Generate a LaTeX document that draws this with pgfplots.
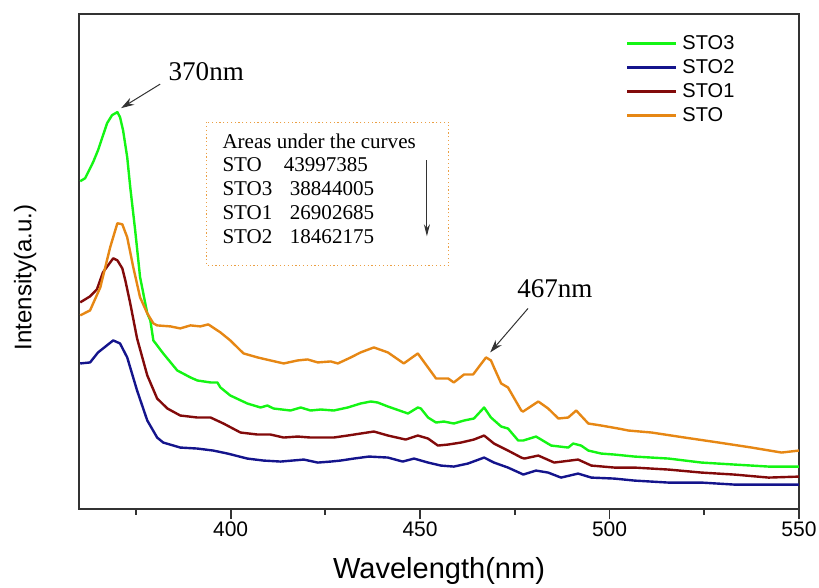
\documentclass[border=0pt]{standalone}
\usepackage{fontspec}
\setmainfont{Liberation Sans}
\newfontfamily\tnr{Liberation Serif}
\usepackage{pgfplots}
\pgfplotsset{compat=1.18}
\usetikzlibrary{arrows.meta}

\definecolor{cgreen}{RGB}{20,245,20}
\definecolor{cblue}{RGB}{20,20,140}
\definecolor{cbrown}{RGB}{130,10,10}
\definecolor{corange}{RGB}{230,135,20}

\begin{document}
\begin{tikzpicture}
\begin{axis}[
  name=ax,
  scale only axis,
  width=719pt, height=494pt,
  xmin=360, xmax=550, ymin=0, ymax=494,
  xtick={400,450,500,550},
  minor xtick={375,425,475,525},
  ytick=\empty,
  xtick pos=bottom,
  tick align=outside,
  major tick length=10pt,
  minor tick length=6pt,
  axis line style={line width=1.8pt, black!80},
  every tick/.style={line width=1.8pt, black!80},
  /pgf/number format/assume math mode=true,
  xticklabel style={font=\fontsize{21}{21}\selectfont},
  xlabel={Wavelength(nm)},
  ylabel={Intensity(a.u.)},
  xlabel style={at={(axis description cs:0.5,-0.127)}, anchor=center, font=\fontsize{29}{29}\selectfont},
  ylabel style={at={(axis description cs:-0.075,0.467)}, anchor=center, font=\fontsize{24}{24}\selectfont},
  legend style={at={(rel axis cs:0.755,0.964)}, anchor=north west, draw=none, fill=none,
    font=\fontsize{20}{20}\selectfont, row sep=5pt, column sep=5pt,
    nodes={inner sep=0pt, text height=15pt, text depth=4pt}},
  legend cell align=left,
  legend image code/.code={\draw[#1, line width=2.6pt] (0pt,0pt) -- (49pt,0pt);},
  every axis plot/.append style={line width=2.4pt, line join=round},
]
\addplot[cgreen] coordinates {
(360.3,327) (361.6,330) (363.7,346) (365.0,358) (367.4,385) (368.7,393) (370.1,396)
(370.8,391) (371.6,378) (372.7,351) (373.5,321) (374.8,278) (376.1,231) (378.0,195)
(378.8,188) (379.6,168) (382.2,155) (385.9,138) (389.4,131) (391.2,128) (394.7,126)
(396.5,126) (397.3,121) (399.9,113) (404.4,105) (407.9,101) (409.7,103) (411.3,100)
(415.8,98) (418.5,101) (421.1,98) (423.8,99) (427.2,98) (430.9,101) (434.3,105)
(437.0,107) (438.8,106) (441.5,102) (446.8,95) (449.4,101) (450.2,100) (452.1,91)
(454.2,86) (456.3,87) (458.9,85) (461.6,88) (464.2,90) (466.9,101) (468.7,91)
(471.4,82) (473.2,80) (475.9,68) (477.2,68) (480.6,72) (484.6,63) (489.1,61)
(490.4,65) (492.5,63) (494.4,58) (497.8,55) (501.3,54) (506.6,52) (515.6,50)
(524.3,46) (533.0,44) (542.0,42) (550,42)
};
\addlegendentry{STO3}
\addplot[cblue] coordinates {
(360.3,145) (362.9,146) (365.0,156) (369.0,168) (370.8,165) (372.7,151) (375.3,118)
(378.0,88) (380.6,71) (382.2,66) (386.7,61) (391.2,60) (395.4,58) (399.2,55)
(404.4,50) (408.7,48) (413.2,47) (419.3,49) (423.0,46) (426.4,47) (429.0,48)
(432.5,50) (436.5,52) (441.5,51) (445.4,47) (448.4,50) (452.1,46) (455.5,43)
(458.9,42) (462.6,45) (466.9,51) (469.5,46) (473.2,41) (476.7,35) (477.2,34)
(480.6,38) (483.8,36) (487.2,31) (491.7,35) (495.2,31) (501.3,30) (506.6,28)
(515.6,26) (524.3,26) (533.0,24) (542.0,24) (550,24)
};
\addlegendentry{STO2}
\addplot[cbrown] coordinates {
(360.3,206) (362.9,212) (364.7,219) (366.3,236) (369.0,250) (370.1,248) (371.4,240)
(372.2,228) (373.5,205) (375.3,170) (378.0,133) (380.6,110) (383.3,100) (386.7,93)
(391.2,91) (394.7,91) (398.1,85) (402.6,76) (407.1,74) (410.5,74) (414.0,71)
(417.7,72) (421.1,71) (423.8,71) (427.2,71) (430.9,73) (434.3,75) (437.8,77)
(441.5,73) (446.2,69) (449.4,73) (452.1,70) (454.7,63) (457.4,64) (460.8,66)
(464.2,69) (466.9,73) (469.5,65) (473.2,58) (476.7,51) (477.5,50) (481.2,53)
(485.4,46) (491.7,49) (495.2,43) (501.3,41) (506.6,41) (515.6,39) (524.3,36)
(533.0,34) (542.0,31) (550,32)
};
\addlegendentry{STO1}
\addplot[corange] coordinates {
(360.3,193) (362.9,198) (365.6,221) (368.2,261) (370.1,285) (371.4,284) (372.7,271)
(374.3,241) (376.1,211) (378.0,195) (379.6,185) (380.6,183) (384.1,182) (386.7,180)
(389.4,183) (392.0,182) (394.1,184) (396.5,178) (397.3,176) (399.9,168) (403.4,155)
(407.1,151) (410.5,148) (414.0,145) (417.7,148) (420.3,149) (423.0,146) (426.4,147)
(428.3,145) (431.7,151) (434.3,156) (437.8,161) (441.5,156) (445.7,145) (449.4,155)
(454.2,130) (457.4,130) (458.9,126) (461.6,134) (464.0,134) (467.4,151) (468.7,148)
(469.5,141) (471.4,125) (473.2,121) (476.7,98) (477.2,97) (481.2,107) (483.8,100)
(486.5,90) (489.1,91) (491.2,98) (494.4,85) (497.8,83) (502.3,80) (505.0,78)
(511.1,76) (519.8,71) (528.8,66) (537.5,61) (545.4,56) (550,58)
};
\addlegendentry{STO}

% annotations
\node[anchor=base west, inner sep=0pt, font=\tnr\fontsize{27}{27}\selectfont] at (axis cs:383.6,428) {370nm};
\draw[-{Stealth[length=13pt,width=8pt]}, line width=1pt, black!80] (axis cs:381.4,424) -- (axis cs:371.1,400);
\node[anchor=base west, inner sep=0pt, font=\tnr\fontsize{27}{27}\selectfont] at (axis cs:475.6,211) {467nm};
\draw[-{Stealth[length=13pt,width=8pt]}, line width=1pt, black!80] (axis cs:478.5,200) -- (axis cs:468.5,156);

% areas box
\draw[corange!80, line width=1.2pt, dash pattern=on 1.2pt off 2.6pt] (axis cs:393.6,386) rectangle (axis cs:457.6,243);
\begin{scope}[every node/.style={anchor=base west, inner sep=0pt, font=\tnr\fontsize{21}{21}\selectfont}]
\node at (axis cs:397.8,360) {Areas under the curves};
\node at (axis cs:397.8,337) {STO};
\node at (axis cs:414.0,337) {43997385};
\node at (axis cs:397.8,313) {STO3};
\node at (axis cs:415.6,313) {38844005};
\node at (axis cs:397.8,289) {STO1};
\node at (axis cs:415.6,289) {26902685};
\node at (axis cs:397.8,265) {STO2};
\node at (axis cs:415.6,265) {18462175};
\end{scope}
\draw[-{Stealth[length=12pt,width=6pt]}, line width=1pt, black!80] (axis cs:451.8,348) -- (axis cs:451.8,272);
\end{axis}
\pgfresetboundingbox
\useasboundingbox ([xshift=-79pt,yshift=-79pt]ax.south west) rectangle ([xshift=20pt,yshift=14pt]ax.north east);
\end{tikzpicture}
\end{document}
